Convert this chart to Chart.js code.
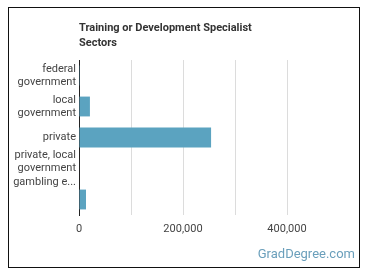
<!DOCTYPE html>
<html>
<head>
<meta charset="utf-8">
<script src="https://cdn.jsdelivr.net/npm/chart.js@4"></script>
<style>
    body {
        margin: 0;
        background: #fff;
        font-family: Roboto, sans-serif;
    }

    .wrap {
        position: relative;
        width: 370px;
        height: 278px;
    }

    .frame {
        position: absolute;
        left: 8px;
        top: 7px;
        width: 350px;
        height: 259px;
        border: 1px solid #111;
    }

    .title {
        position: absolute;
        left: 79px;
        top: 20px;
        font-size: 11px;
        font-weight: bold;
        line-height: 15px;
        color: #333;
    }

    .brand {
        position: absolute;
        right: 15px;
        top: 246px;
        font-size: 13px;
        color: #6a9fbb;
    }

    canvas {
        position: absolute;
        left: 0;
        top: 0;
    }
</style>
</head>
<body>
<div class="wrap">
    <div class="frame"></div>
    <canvas id="sectorChart" width="370" height="278"></canvas>
    <div class="title">Training or Development Specialist<br>Sectors</div>
    <div class="brand">GradDegree.com</div>
</div>

<script>
const categories = [
    ['federal', 'government'],
    ['local', 'government'],
    ['private'],
    ['private, local', 'government', 'gambling e...'],
    ['']
];
const workers = [1500, 21000, 254000, 1000, 13500];
const tickLabels = ['0', '', '200,000', '', '400,000', ''];

// multi-line category labels, right aligned against the axis
const rightLabels = {
    id: 'rightLabels',
    afterDraw(chart) {
        const yScale = chart.scales.y;
        const c = chart.ctx;
        const lineH = 13.5;
        c.save();
        c.font = '11px Roboto';
        c.fillStyle = '#444';
        c.textAlign = 'right';
        c.textBaseline = 'middle';
        categories.forEach((lines, i) => {
            const mid = yScale.getPixelForTick(i);
            const start = mid - (lines.length - 1) * lineH / 2;
            lines.forEach((t, j) => c.fillText(t, yScale.right - 3, start + j * lineH));
        });
        c.restore();
    }
};

const ctx = document.getElementById('sectorChart').getContext('2d');
new Chart(ctx, {
    type: 'bar',
    data: {
        labels: categories.map(l => l.join(' ')),
        datasets: [{
            data: workers,
            backgroundColor: '#5ba3c0',
            barPercentage: 0.8,
            categoryPercentage: 0.8
        }]
    },
    options: {
        indexAxis: 'y',
        responsive: false,
        animation: false,
        layout: {
            padding: { left: 0, right: 31, top: 60, bottom: 0 }
        },
        plugins: {
            legend: { display: false },
            tooltip: { enabled: false }
        },
        scales: {
            x: {
                min: 0,
                max: 500000,
                afterFit: (scale) => { scale.height = 63; },
                grid: {
                    drawTicks: false,
                    color: (c) => c.index === 5 ? 'rgba(0,0,0,0)' : '#dcdcdc'
                },
                border: { display: false },
                ticks: {
                    stepSize: 100000,
                    padding: 8,
                    color: '#444',
                    font: { family: 'Roboto', size: 11 },
                    callback: (v, i) => tickLabels[i]
                }
            },
            y: {
                afterFit: (scale) => { scale.width = 79; },
                grid: { display: false, drawTicks: false },
                border: { display: true, color: '#222', width: 1 },
                ticks: { display: false }
            }
        }
    },
    plugins: [rightLabels]
});
</script>
</body>
</html>
